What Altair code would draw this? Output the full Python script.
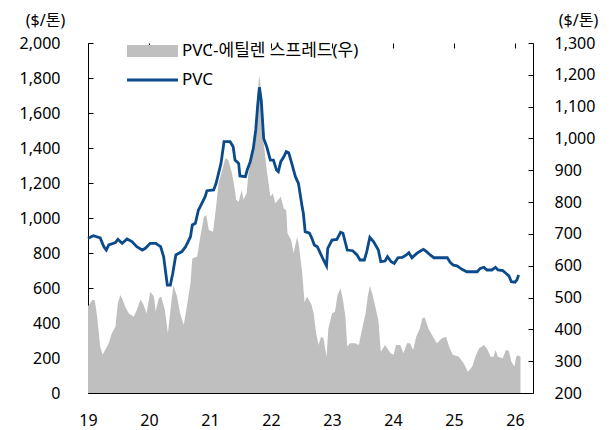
import altair as alt
import pandas as pd

# PVC price ($/t, left axis)
line_years = [2019.00, 2019.09, 2019.20, 2019.26, 2019.30, 2019.34, 2019.45, 2019.49, 2019.56, 2019.64,
              2019.72, 2019.80, 2019.89, 2019.94, 2020.02, 2020.11, 2020.19, 2020.24, 2020.30, 2020.35,
              2020.39, 2020.44, 2020.54, 2020.60, 2020.68, 2020.71, 2020.76, 2020.81, 2020.84, 2020.92,
              2020.95, 2021.06, 2021.10, 2021.14, 2021.18, 2021.23, 2021.33, 2021.38, 2021.41, 2021.47,
              2021.49, 2021.58, 2021.61, 2021.66, 2021.71, 2021.75, 2021.78, 2021.81, 2021.84, 2021.88,
              2021.93, 2021.99, 2022.04, 2022.09, 2022.12, 2022.16, 2022.21, 2022.25, 2022.29, 2022.34,
              2022.40, 2022.45, 2022.51, 2022.53, 2022.56, 2022.63, 2022.67, 2022.71, 2022.76, 2022.81,
              2022.86, 2022.91, 2022.93, 2023.00, 2023.08, 2023.14, 2023.18, 2023.25, 2023.34, 2023.41,
              2023.46, 2023.53, 2023.57, 2023.62, 2023.68, 2023.76, 2023.80, 2023.87, 2023.91, 2023.97,
              2024.02, 2024.08, 2024.15, 2024.22, 2024.26, 2024.31, 2024.39, 2024.45, 2024.50, 2024.55,
              2024.61, 2024.67, 2024.89, 2024.94, 2024.99, 2025.05, 2025.13, 2025.21, 2025.38, 2025.43,
              2025.49, 2025.54, 2025.62, 2025.68, 2025.72, 2025.80, 2025.85, 2025.90, 2025.94, 2026.00,
              2026.03, 2026.06]
line_values = [884, 899, 886, 836, 817, 846, 859, 878, 855, 880,
               865, 836, 817, 827, 855, 855, 836, 779, 617, 617,
               684, 789, 808, 836, 893, 960, 970, 1046, 1065, 1122,
               1156, 1160, 1198, 1255, 1312, 1436, 1436, 1407, 1331, 1312,
               1240, 1236, 1274, 1322, 1398, 1503, 1636, 1747, 1674, 1455,
               1407, 1331, 1331, 1274, 1265, 1322, 1350, 1379, 1373, 1312,
               1236, 1198, 1065, 1027, 922, 913, 884, 846, 836, 798,
               760, 726, 827, 874, 878, 918, 913, 817, 813, 789,
               760, 760, 808, 890, 865, 817, 750, 754, 779, 750,
               741, 773, 775, 789, 802, 773, 798, 811, 821, 808,
               789, 773, 773, 745, 731, 727, 707, 693, 693, 712,
               718, 703, 703, 718, 703, 699, 684, 669, 636, 633,
               646, 674]

# PVC-ethylene spread ($/t, right axis)
spread_years = [2019.00, 2019.07, 2019.11, 2019.15, 2019.20, 2019.24, 2019.28, 2019.34, 2019.39, 2019.45,
                2019.49, 2019.53, 2019.57, 2019.61, 2019.67, 2019.75, 2019.80, 2019.86, 2019.91, 2019.96,
                2020.02, 2020.08, 2020.11, 2020.16, 2020.20, 2020.26, 2020.31, 2020.37, 2020.40, 2020.46,
                2020.51, 2020.57, 2020.62, 2020.68, 2020.71, 2020.79, 2020.84, 2020.90, 2020.94, 2020.98,
                2021.05, 2021.10, 2021.14, 2021.20, 2021.25, 2021.30, 2021.36, 2021.39, 2021.43, 2021.47,
                2021.52, 2021.55, 2021.60, 2021.63, 2021.69, 2021.74, 2021.78, 2021.81, 2021.84, 2021.88,
                2021.93, 2021.99, 2022.03, 2022.07, 2022.12, 2022.16, 2022.21, 2022.25, 2022.27, 2022.33,
                2022.37, 2022.43, 2022.46, 2022.51, 2022.55, 2022.59, 2022.66, 2022.70, 2022.74, 2022.78,
                2022.82, 2022.86, 2022.91, 2022.94, 2023.00, 2023.05, 2023.09, 2023.14, 2023.18, 2023.22,
                2023.25, 2023.29, 2023.38, 2023.44, 2023.49, 2023.55, 2023.59, 2023.62, 2023.66, 2023.71,
                2023.76, 2023.80, 2023.87, 2023.96, 2024.01, 2024.05, 2024.12, 2024.17, 2024.23, 2024.28,
                2024.33, 2024.38, 2024.44, 2024.48, 2024.52, 2024.58, 2024.67, 2024.72, 2024.80, 2024.87,
                2024.92, 2024.98, 2025.08, 2025.16, 2025.23, 2025.30, 2025.35, 2025.41, 2025.49, 2025.54,
                2025.60, 2025.65, 2025.68, 2025.72, 2025.80, 2025.85, 2025.90, 2025.94, 2025.99, 2026.02,
                2026.05, 2026.09]
spread_values = [473, 492, 492, 440, 345, 320, 335, 356, 388, 408,
                 482, 508, 492, 471, 450, 440, 461, 494, 477, 450,
                 518, 503, 456, 498, 503, 461, 388, 492, 539, 503,
                 450, 414, 471, 545, 623, 629, 690, 754, 759, 712,
                 707, 785, 859, 901, 938, 932, 890, 859, 807, 801,
                 838, 807, 828, 890, 943, 1027, 1142, 1199, 1142, 985,
                 901, 817, 828, 796, 807, 817, 780, 775, 702, 681,
                 639, 691, 660, 580, 485, 503, 480, 450, 388, 351,
                 377, 372, 314, 403, 450, 456, 508, 529, 492, 440,
                 345, 356, 356, 351, 398, 450, 508, 536, 513, 471,
                 429, 330, 351, 325, 320, 351, 351, 325, 356, 356,
                 335, 377, 403, 435, 437, 403, 372, 356, 372, 377,
                 345, 320, 314, 293, 267, 283, 314, 340, 351, 340,
                 314, 314, 335, 314, 309, 335, 333, 298, 283, 314,
                 319, 314]

x_ticks = [2019, 2020, 2021, 2022, 2023, 2024, 2025, 2026]
left_ticks = [0, 200, 400, 600, 800, 1000, 1200, 1400, 1600, 1800, 2000]
right_ticks = [200, 300, 400, 500, 600, 700, 800, 900, 1000, 1100, 1200, 1300]
legend_labels = ["PVC-에틸렌 스프레드(우)", "PVC"]
unit_title = "($/톤)"

line_df = pd.DataFrame({"year": line_years, "pvc": line_values})
spread_df = pd.DataFrame({"year": spread_years, "spread": spread_values})
legend_df = pd.DataFrame({"label": legend_labels})

FONT = "Noto Sans, Noto Sans CJK KR, sans-serif"
BLUE = "#0B4A8B"
GRAY = "#BFBFBF"
W, H = 445, 350

x_enc = alt.X(
    "year:Q",
    scale=alt.Scale(domain=[2019, 2026.295], nice=False, zero=False),
    axis=alt.Axis(values=x_ticks, labelExpr="substring(toString(datum.value), 2, 4)",
                  title=None, tickSize=0, labelPadding=19, labelFlush=False, grid=True,
                  gridDash=[5, 3000], gridColor="#000000", gridOpacity=1),
)

area = alt.Chart(spread_df).mark_area(color=GRAY, interpolate="linear", clip=True).encode(
    x=x_enc,
    y=alt.Y("spread:Q",
            scale=alt.Scale(domain=[200, 1300], nice=False, zero=False),
            axis=alt.Axis(orient="right", values=right_ticks, format=",.0f", tickSize=0,
                          labelPadding=21, grid=True, gridDash=[5, 3000], gridColor="#000000",
                          gridOpacity=1, title=unit_title, titleAngle=0, titleX=45, titleY=-23,
                          titleAlign="center", titleBaseline="middle")),
    y2=alt.datum(200),
)

line = alt.Chart(line_df).mark_line(color=BLUE, strokeWidth=2.8, interpolate="linear").encode(
    x=x_enc,
    y=alt.Y("pvc:Q",
            scale=alt.Scale(domain=[0, 2000], nice=False),
            axis=alt.Axis(orient="left", values=left_ticks, format=",.0f", tickSize=0,
                          labelPadding=28, grid=True, gridDash=[5, 3000], gridColor="#000000",
                          gridOpacity=1, title=unit_title, titleAngle=0, titleX=-43, titleY=-23,
                          titleAlign="center", titleBaseline="middle")),
)

leg_rect = alt.Chart(legend_df.iloc[[0]]).mark_rect(color=GRAY).encode(
    x=alt.value(39), x2=alt.value(90), y=alt.value(2), y2=alt.value(14)
)
leg_line = alt.Chart(legend_df.iloc[[1]]).mark_rule(color=BLUE, strokeWidth=3).encode(
    x=alt.value(39), x2=alt.value(90), y=alt.value(37)
)
leg_text1 = alt.Chart(legend_df.iloc[[0]]).mark_text(
    align="left", baseline="middle", fontSize=17, font=FONT, color="#000000"
).encode(x=alt.value(94), y=alt.value(8), text="label:N")
leg_text2 = alt.Chart(legend_df.iloc[[1]]).mark_text(
    align="left", baseline="middle", fontSize=17, font=FONT, color="#000000"
).encode(x=alt.value(94), y=alt.value(37), text="label:N")

chart = alt.layer(
    area, line, leg_rect, leg_line, leg_text1, leg_text2
).resolve_scale(y="independent").properties(
    width=W, height=H,
    autosize=alt.AutoSizeParams(type="none"),
    padding={"left": 80, "top": 35, "right": 70, "bottom": 38},
).configure_view(stroke=None).configure_axis(
    labelFont=FONT, titleFont=FONT, labelFontSize=16, titleFontSize=16,
    labelColor="#000000", titleColor="#000000", titleFontWeight="normal",
    domainColor="#000000", domainWidth=1, tickColor="#000000",
)

chart.save("out.html", embed_options={"renderer": "svg", "actions": False})
